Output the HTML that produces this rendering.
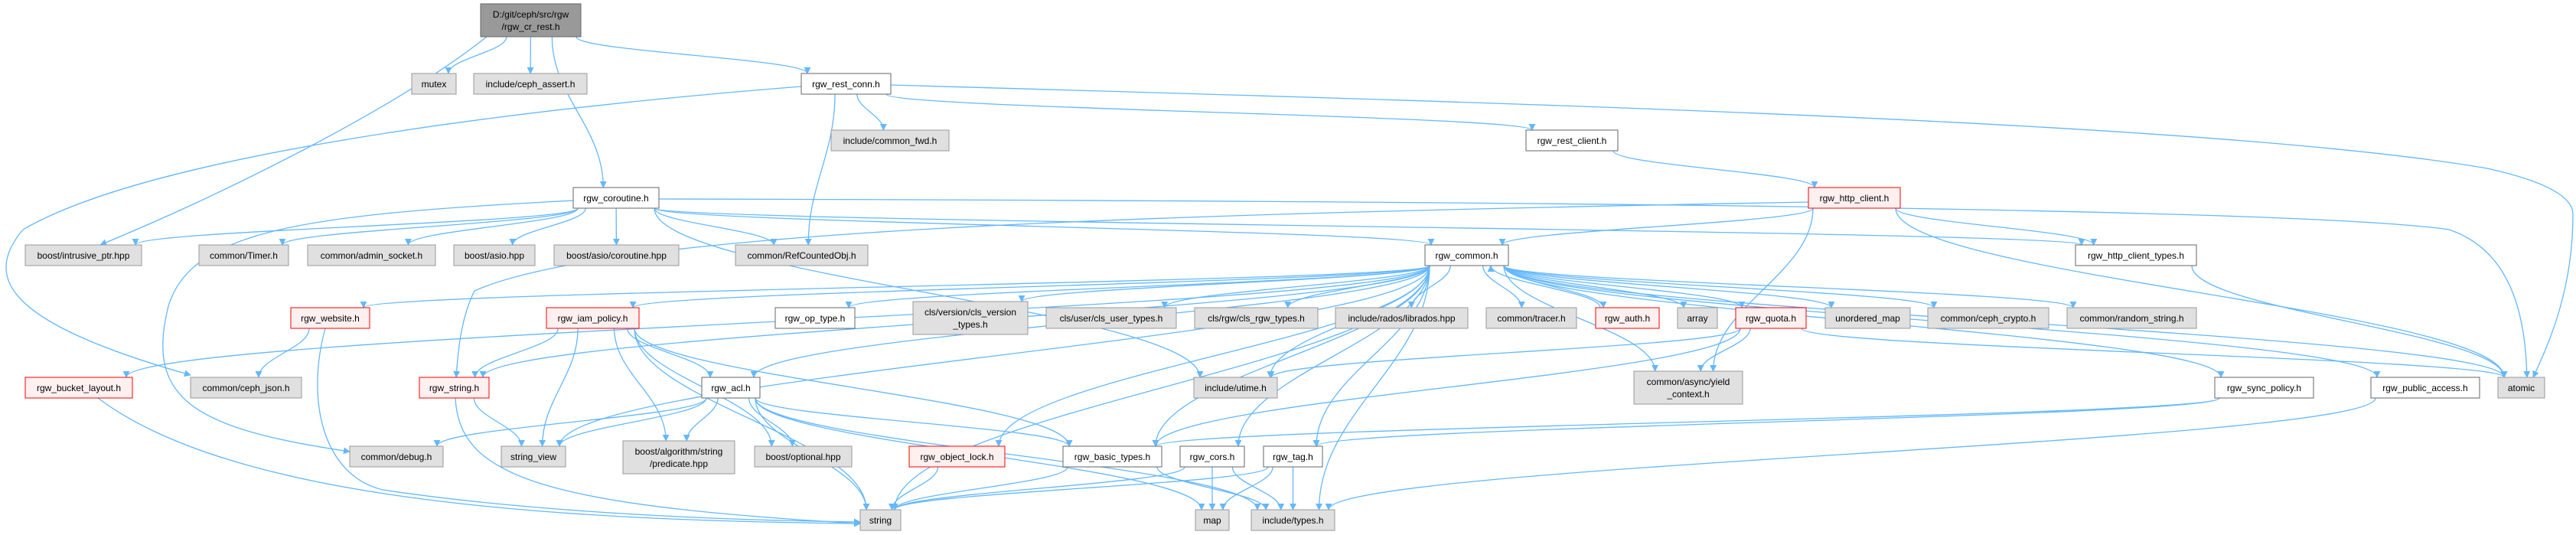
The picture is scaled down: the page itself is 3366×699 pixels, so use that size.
<!DOCTYPE html>
<html><head><meta charset="utf-8">
<style>
html,body{margin:0;padding:0;background:#fff;}
svg{display:block;}
text{font-family:"Liberation Sans",Arial,sans-serif;font-size:12px;fill:#000;}
</style></head>
<body>
<svg id="g" width="3366" height="699" viewBox="0 0 3366 699" xmlns="http://www.w3.org/2000/svg">
<defs><marker id="ah" viewBox="0 0 10 10" refX="9" refY="5" markerWidth="9" markerHeight="9" markerUnits="userSpaceOnUse" orient="auto"><path d="M0,0 L10,5 L0,10 z" fill="#63b8ff"/></marker></defs>
<g id="edges" fill="none" stroke="#63b8ff" stroke-width="1.3"></g>
<g id="nodes">
<rect x="628" y="5" width="131" height="43" fill="#999" stroke="#666"/><text x="693.5" y="23" text-anchor="middle">D:/git/ceph/src/rgw</text><text x="693.5" y="39" text-anchor="middle">/rgw_cr_rest.h</text>
<rect x="538" y="96" width="58" height="27" fill="#e0e0e0" stroke="#999"/><text x="567" y="114" text-anchor="middle">mutex</text>
<rect x="619" y="96" width="148" height="27" fill="#e0e0e0" stroke="#999"/><text x="693" y="114" text-anchor="middle">include/ceph_assert.h</text>
<rect x="1047" y="96" width="117" height="27" fill="#fff" stroke="#666"/><text x="1105.5" y="114" text-anchor="middle">rgw_rest_conn.h</text>
<rect x="1086" y="170" width="154" height="27" fill="#e0e0e0" stroke="#999"/><text x="1163" y="188" text-anchor="middle">include/common_fwd.h</text>
<rect x="1994" y="170" width="120" height="27" fill="#fff" stroke="#666"/><text x="2054" y="188" text-anchor="middle">rgw_rest_client.h</text>
<rect x="749" y="245" width="112" height="27" fill="#fff" stroke="#666"/><text x="805" y="263" text-anchor="middle">rgw_coroutine.h</text>
<rect x="2363" y="245" width="120" height="27" fill="#fff0f0" stroke="#f00"/><text x="2423" y="263" text-anchor="middle">rgw_http_client.h</text>
<rect x="33" y="320" width="152" height="27" fill="#e0e0e0" stroke="#999"/><text x="109" y="338" text-anchor="middle">boost/intrusive_ptr.hpp</text>
<rect x="260" y="320" width="117" height="27" fill="#e0e0e0" stroke="#999"/><text x="318.5" y="338" text-anchor="middle">common/Timer.h</text>
<rect x="402" y="320" width="167" height="27" fill="#e0e0e0" stroke="#999"/><text x="485.5" y="338" text-anchor="middle">common/admin_socket.h</text>
<rect x="593" y="320" width="106" height="27" fill="#e0e0e0" stroke="#999"/><text x="646" y="338" text-anchor="middle">boost/asio.hpp</text>
<rect x="724" y="320" width="163" height="27" fill="#e0e0e0" stroke="#999"/><text x="805.5" y="338" text-anchor="middle">boost/asio/coroutine.hpp</text>
<rect x="961" y="320" width="173" height="27" fill="#e0e0e0" stroke="#999"/><text x="1047.5" y="338" text-anchor="middle">common/RefCountedObj.h</text>
<rect x="1862" y="320" width="109" height="27" fill="#fff" stroke="#666"/><text x="1916.5" y="338" text-anchor="middle">rgw_common.h</text>
<rect x="2712" y="320" width="158" height="27" fill="#fff" stroke="#666"/><text x="2791" y="338" text-anchor="middle">rgw_http_client_types.h</text>
<rect x="380" y="402" width="103" height="27" fill="#fff0f0" stroke="#f00"/><text x="431.5" y="420" text-anchor="middle">rgw_website.h</text>
<rect x="714" y="402" width="121" height="27" fill="#fff0f0" stroke="#f00"/><text x="774.5" y="420" text-anchor="middle">rgw_iam_policy.h</text>
<rect x="1013" y="402" width="104" height="27" fill="#fff" stroke="#666"/><text x="1065" y="420" text-anchor="middle">rgw_op_type.h</text>
<rect x="1193" y="394" width="150" height="43" fill="#e0e0e0" stroke="#999"/><text x="1268" y="412" text-anchor="middle">cls/version/cls_version</text><text x="1268" y="428" text-anchor="middle">_types.h</text>
<rect x="1367" y="402" width="170" height="27" fill="#e0e0e0" stroke="#999"/><text x="1452" y="420" text-anchor="middle">cls/user/cls_user_types.h</text>
<rect x="1561" y="402" width="161" height="27" fill="#e0e0e0" stroke="#999"/><text x="1641.5" y="420" text-anchor="middle">cls/rgw/cls_rgw_types.h</text>
<rect x="1745" y="402" width="173" height="27" fill="#e0e0e0" stroke="#999"/><text x="1831.5" y="420" text-anchor="middle">include/rados/librados.hpp</text>
<rect x="1942" y="402" width="118" height="27" fill="#e0e0e0" stroke="#999"/><text x="2001" y="420" text-anchor="middle">common/tracer.h</text>
<rect x="2085" y="402" width="83" height="27" fill="#fff0f0" stroke="#f00"/><text x="2126.5" y="420" text-anchor="middle">rgw_auth.h</text>
<rect x="2192" y="402" width="52" height="27" fill="#e0e0e0" stroke="#999"/><text x="2218" y="420" text-anchor="middle">array</text>
<rect x="2268" y="402" width="92" height="27" fill="#fff0f0" stroke="#f00"/><text x="2314" y="420" text-anchor="middle">rgw_quota.h</text>
<rect x="2385" y="402" width="111" height="27" fill="#e0e0e0" stroke="#999"/><text x="2440.5" y="420" text-anchor="middle">unordered_map</text>
<rect x="2519" y="402" width="158" height="27" fill="#e0e0e0" stroke="#999"/><text x="2598" y="420" text-anchor="middle">common/ceph_crypto.h</text>
<rect x="2701" y="402" width="169" height="27" fill="#e0e0e0" stroke="#999"/><text x="2785.5" y="420" text-anchor="middle">common/random_string.h</text>
<rect x="33" y="493" width="140" height="27" fill="#fff0f0" stroke="#f00"/><text x="103" y="511" text-anchor="middle">rgw_bucket_layout.h</text>
<rect x="249" y="493" width="145" height="27" fill="#e0e0e0" stroke="#999"/><text x="321.5" y="511" text-anchor="middle">common/ceph_json.h</text>
<rect x="548" y="493" width="91" height="27" fill="#fff0f0" stroke="#f00"/><text x="593.5" y="511" text-anchor="middle">rgw_string.h</text>
<rect x="917" y="493" width="76" height="27" fill="#fff" stroke="#666"/><text x="955" y="511" text-anchor="middle">rgw_acl.h</text>
<rect x="1560" y="493" width="109" height="27" fill="#e0e0e0" stroke="#999"/><text x="1614.5" y="511" text-anchor="middle">include/utime.h</text>
<rect x="2135" y="485" width="142" height="43" fill="#e0e0e0" stroke="#999"/><text x="2206" y="503" text-anchor="middle">common/async/yield</text><text x="2206" y="519" text-anchor="middle">_context.h</text>
<rect x="2894" y="493" width="129" height="27" fill="#fff" stroke="#666"/><text x="2958.5" y="511" text-anchor="middle">rgw_sync_policy.h</text>
<rect x="3098" y="493" width="142" height="27" fill="#fff" stroke="#666"/><text x="3169" y="511" text-anchor="middle">rgw_public_access.h</text>
<rect x="3264" y="493" width="61" height="27" fill="#e0e0e0" stroke="#999"/><text x="3294.5" y="511" text-anchor="middle">atomic</text>
<rect x="457" y="583" width="122" height="27" fill="#e0e0e0" stroke="#999"/><text x="518" y="601" text-anchor="middle">common/debug.h</text>
<rect x="655" y="583" width="84" height="27" fill="#e0e0e0" stroke="#999"/><text x="697" y="601" text-anchor="middle">string_view</text>
<rect x="814" y="576" width="146" height="43" fill="#e0e0e0" stroke="#999"/><text x="887" y="594" text-anchor="middle">boost/algorithm/string</text><text x="887" y="610" text-anchor="middle">/predicate.hpp</text>
<rect x="986" y="583" width="127" height="27" fill="#e0e0e0" stroke="#999"/><text x="1049.5" y="601" text-anchor="middle">boost/optional.hpp</text>
<rect x="1188" y="583" width="125" height="27" fill="#fff0f0" stroke="#f00"/><text x="1250.5" y="601" text-anchor="middle">rgw_object_lock.h</text>
<rect x="1389" y="583" width="129" height="27" fill="#fff" stroke="#666"/><text x="1453.5" y="601" text-anchor="middle">rgw_basic_types.h</text>
<rect x="1542" y="583" width="84" height="27" fill="#fff" stroke="#666"/><text x="1584" y="601" text-anchor="middle">rgw_cors.h</text>
<rect x="1651" y="583" width="77" height="27" fill="#fff" stroke="#666"/><text x="1689.5" y="601" text-anchor="middle">rgw_tag.h</text>
<rect x="1124" y="666" width="53" height="27" fill="#e0e0e0" stroke="#999"/><text x="1150.5" y="684" text-anchor="middle">string</text>
<rect x="1562" y="666" width="44" height="27" fill="#e0e0e0" stroke="#999"/><text x="1584" y="684" text-anchor="middle">map</text>
<rect x="1635" y="666" width="109" height="27" fill="#e0e0e0" stroke="#999"/><text x="1689.5" y="684" text-anchor="middle">include/types.h</text>
</g>
</svg>
<script>
(function(){
var N={};
document.querySelectorAll('#nodes rect').forEach(function(r){
  var t=r.nextElementSibling, lbl=t.textContent;
  var t2=t.nextElementSibling; if(t2&&t2.tagName==='text')lbl+=t2.textContent;
  N[lbl]={x1:+r.getAttribute('x'),y1:+r.getAttribute('y'),x2:+r.getAttribute('x')+ +r.getAttribute('width'),y2:+r.getAttribute('y')+ +r.getAttribute('height')};
});
var OV={
'D:/git/ceph/src/rgw/rgw_cr_rest.h>boost/intrusive_ptr.hpp':'M636,48 C520,140 300,250 131,320',
'rgw_rest_conn.h>atomic':'M1164,111 C2000,135 2900,160 3250,220 C3340,240 3362,262 3362,280 C3362,380 3330,450 3310,493',
'rgw_rest_conn.h>common/ceph_json.h':'M1047,113 C700,140 200,200 30,300 C-20,360 0,420 249,490',
'rgw_coroutine.h>common/debug.h':'M749,262 C400,280 250,300 220,400 C190,520 250,560 457,590',
'rgw_bucket_layout.h>string':'M128,520 C300,650 700,680 1124,684',
'rgw_website.h>string':'M425,429 C400,520 420,620 500,640 C700,670 950,680 1124,682',
'rgw_string.h>string':'M595,520 C600,620 700,660 1124,684',
'rgw_http_client.h>rgw_string.h':'M2363,264 C1500,280 800,300 620,380 C600,420 598,470 596,493',
'rgw_coroutine.h>atomic':'M861,260 C1800,262 3000,270 3200,300 C3290,330 3300,430 3302,493'
};
var E=[
['D:/git/ceph/src/rgw/rgw_cr_rest.h',['mutex','include/ceph_assert.h','rgw_rest_conn.h','rgw_coroutine.h','boost/intrusive_ptr.hpp']],
['rgw_rest_conn.h',['include/common_fwd.h','rgw_rest_client.h','common/RefCountedObj.h','atomic','common/ceph_json.h']],
['rgw_rest_client.h',['rgw_http_client.h']],
['rgw_http_client.h',['rgw_common.h','rgw_http_client_types.h','atomic','common/async/yield_context.h','rgw_string.h']],
['rgw_coroutine.h',['boost/intrusive_ptr.hpp','common/Timer.h','common/admin_socket.h','boost/asio.hpp','boost/asio/coroutine.hpp','common/RefCountedObj.h','rgw_common.h','rgw_http_client_types.h','common/debug.h','include/utime.h','atomic']],
['rgw_common.h',['rgw_website.h','rgw_iam_policy.h','rgw_op_type.h','cls/version/cls_version_types.h','cls/user/cls_user_types.h','cls/rgw/cls_rgw_types.h','include/rados/librados.hpp','common/tracer.h','rgw_auth.h','array','rgw_quota.h','unordered_map','common/ceph_crypto.h','common/random_string.h','rgw_sync_policy.h','rgw_public_access.h','atomic','rgw_bucket_layout.h','rgw_string.h','string_view','rgw_acl.h','include/utime.h','common/async/yield_context.h','rgw_object_lock.h','rgw_basic_types.h','rgw_cors.h','rgw_tag.h','include/types.h','string']],
['rgw_auth.h',['rgw_common.h']],
['rgw_website.h',['common/ceph_json.h','string']],
['rgw_iam_policy.h',['rgw_string.h','string_view','rgw_acl.h','boost/algorithm/string/predicate.hpp','boost/optional.hpp','string','rgw_basic_types.h']],
['rgw_string.h',['string_view','string']],
['rgw_acl.h',['common/debug.h','string_view','boost/algorithm/string/predicate.hpp','boost/optional.hpp','string','map','rgw_basic_types.h','include/types.h']],
['rgw_bucket_layout.h',['string']],
['rgw_quota.h',['include/utime.h','common/async/yield_context.h','atomic','rgw_basic_types.h']],
['rgw_sync_policy.h',['rgw_basic_types.h','rgw_tag.h']],
['rgw_public_access.h',['include/types.h']],
['rgw_object_lock.h',['string']],
['rgw_basic_types.h',['string','include/types.h']],
['rgw_cors.h',['string','map','include/types.h']],
['rgw_tag.h',['string','map','include/types.h']],
['rgw_http_client_types.h',['atomic']]
];
var g=document.getElementById('edges'),ns='http://www.w3.org/2000/svg';
E.forEach(function(e){var s=N[e[0]];if(!s)return;
 e[1].forEach(function(tn){var t=N[tn];if(!t)return;
  var d=OV[e[0]+'>'+tn];
  if(!d){
  var scx=(s.x1+s.x2)/2,tcx=(t.x1+t.x2)/2;
  var sx=scx+(tcx-scx)*0.25; sx=Math.max(s.x1+6,Math.min(s.x2-6,sx));
  var tx=tcx+(scx-tcx)*0.15; tx=Math.max(t.x1+8,Math.min(t.x2-8,tx));
  if(t.y1>s.y2+2){var sy=s.y2,ty=t.y1,dy=ty-sy;
    d='M'+sx+','+sy+' C'+sx+','+(sy+dy*0.4)+' '+tx+','+(ty-dy*0.4)+' '+tx+','+ty;}
  else if(t.y2<s.y1){var sy=s.y1,ty=t.y2,dy=sy-ty;
    d='M'+sx+','+sy+' C'+sx+','+(sy-dy*0.4)+' '+tx+','+(ty+dy*0.4)+' '+tx+','+ty;}
  else {var sy=(s.y1+s.y2)/2,ty=(t.y1+t.y2)/2;var x0=tcx>scx?s.x2:s.x1,x1=tcx>scx?t.x1:t.x2;
    d='M'+x0+','+sy+' L'+x1+','+ty;}
  }
  var p=document.createElementNS(ns,'path');p.setAttribute('d',d);p.setAttribute('marker-end','url(#ah)');g.appendChild(p);
 });
});
})();
</script>
</body></html>
